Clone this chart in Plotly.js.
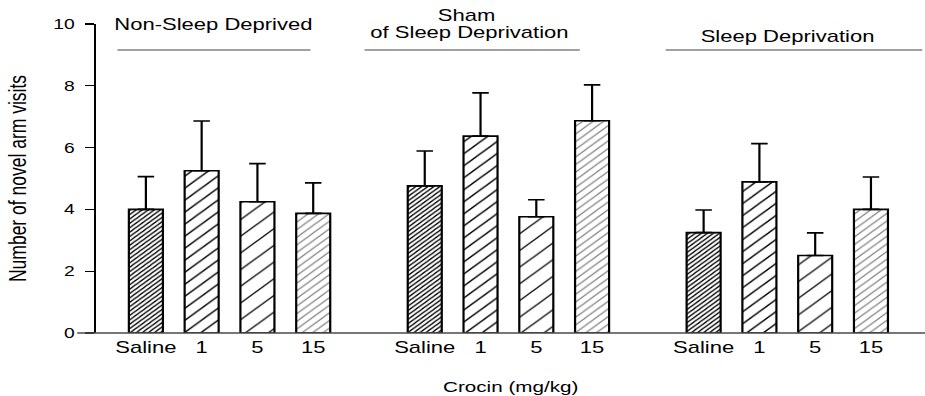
<!DOCTYPE html>
<html>
<head>
<meta charset="utf-8">
<script src="https://cdn.plot.ly/plotly-3.0.1.min.js"></script>
<style>
  html, body { margin: 0; padding: 0; background: #fff; overflow: hidden; }
  #wrap { width: 925px; height: 396px; overflow: hidden; }
  #chart { width: 672px; height: 396px; transform-origin: 0 0; }
</style>
</head>
<body>
<div id="wrap"><div id="chart"></div></div>
<script>
// ---- data ----
const groupTitles = [['Non-Sleep Deprived'], ['Sham', 'of Sleep Deprivation'], ['Sleep Deprivation']];
const doseLabels = ['Saline', '1', '5', '15'];
const xAxisTitle = 'Crocin (mg/kg)';
const yAxisTitle = 'Number of novel arm visits';
const yTicks = [0, 2, 4, 6, 8, 10];

const salineMean = [4.00, 4.76, 3.25];
const salineSem  = [1.06, 1.13, 0.73];
const dose1Mean  = [5.25, 6.37, 4.89];
const dose1Sem   = [1.61, 1.40, 1.24];
const dose5Mean  = [4.25, 3.76, 2.51];
const dose5Sem   = [1.23, 0.55, 0.73];
const dose15Mean = [3.87, 6.87, 4.00];
const dose15Sem  = [0.99, 1.16, 1.05];

// ---- layout helpers ----
const S = 925 / 672;               // horizontal stretch of the original figure
document.getElementById('chart').style.transform = 'scaleX(' + S + ')';
const FONT = 'Liberation Sans, Arial, sans-serif';
const groupStep = 5;               // slots between groups
const series = [
  {mean: salineMean, sem: salineSem, pat: {shape: '/', size: 3.1, solidity: 0.36, fgcolor: '#000'}},
  {mean: dose1Mean,  sem: dose1Sem,  pat: {shape: '/', size: 8.5, solidity: 0.14, fgcolor: '#000'}},
  {mean: dose5Mean,  sem: dose5Sem,  pat: {shape: '/', size: 11.8, solidity: 0.10, fgcolor: '#000'}},
  {mean: dose15Mean, sem: dose15Sem, pat: {shape: '/', size: 5.4, solidity: 0.21, fgcolor: '#808080'}}
];

const traces = series.map((s, d) => ({
  type: 'bar',
  name: doseLabels[d],
  x: s.mean.map((_, g) => g * groupStep + d),
  y: s.mean,
  width: 0.61,
  marker: {
    color: '#fff',
    line: {color: '#000', width: 1.6},
    pattern: Object.assign({bgcolor: '#fff', fillmode: 'replace'}, s.pat)
  },
  error_y: {
    type: 'data', symmetric: false,
    array: s.sem, arrayminus: s.sem.map(() => 0),
    color: '#000', thickness: 1.6, width: 6
  },
  hoverinfo: 'x+y',
  showlegend: false
}));

const tickVals = [], tickText = [];
for (let g = 0; g < groupTitles.length; g++) {
  for (let d = 0; d < doseLabels.length; d++) {
    tickVals.push(g * groupStep + d);
    tickText.push(doseLabels[d]);
  }
}

// group header lines (data units) and titles
const headerLineY = 9.16;
const headerLines = [[-0.51, 2.95], [3.92, 7.78], [9.32, 13.92]];
const headerText = [
  {t: groupTitles[0][0], x: 1.21, y: 1.0},
  {t: groupTitles[1][0], x: 5.74, y: 1.029},
  {t: groupTitles[1][1], x: 5.80, y: 0.974},
  {t: groupTitles[2][0], x: 11.50, y: 0.961}
];

const shapes = headerLines.map(([a, b]) => ({
  type: 'line', xref: 'x', yref: 'y', x0: a, x1: b, y0: headerLineY, y1: headerLineY,
  line: {color: '#444', width: 1}
}));
// x axis baseline (extends slightly left of the y axis as in the original)
shapes.push({type: 'line', xref: 'paper', yref: 'paper', x0: -0.023, x1: 1, y0: 0, y1: 0,
  line: {color: '#4a4a4a', width: 1.3}});

const annotations = headerText.map(h => ({
  text: h.t, xref: 'x', yref: 'paper', x: h.x, y: h.y,
  xanchor: 'center', yanchor: 'middle', showarrow: false,
  font: {family: FONT, size: 16, color: '#000'}
}));

const layout = {
  width: 672, height: 396,
  margin: {l: 97 / S, r: 0, t: 24, b: 63},
  paper_bgcolor: '#fff', plot_bgcolor: '#fff',
  font: {family: FONT, color: '#000'},
  bargap: 0,
  xaxis: {
    range: [-0.888, 13.969],
    tickvals: tickVals, ticktext: tickText,
    ticks: '', showline: false, showgrid: false, zeroline: false,
    tickfont: {family: FONT, size: 16},
    ticklabelstandoff: 3,
    title: {text: xAxisTitle, font: {family: FONT, size: 15}, standoff: 26}
  },
  yaxis: {
    range: [0, 10], tickvals: yTicks,
    ticks: 'outside', ticklen: 6.5, tickwidth: 1.3, tickcolor: '#000',
    showline: true, linecolor: '#000', linewidth: 1.5,
    showgrid: false, zeroline: false,
    tickfont: {family: FONT, size: 14},
    ticklabelstandoff: 5,
    title: {text: yAxisTitle, font: {family: FONT, size: 17.5}, standoff: 14}
  },
  shapes: shapes,
  annotations: annotations
};

Plotly.newPlot('chart', traces, layout, {displayModeBar: false, staticPlot: true});
</script>
</body>
</html>
